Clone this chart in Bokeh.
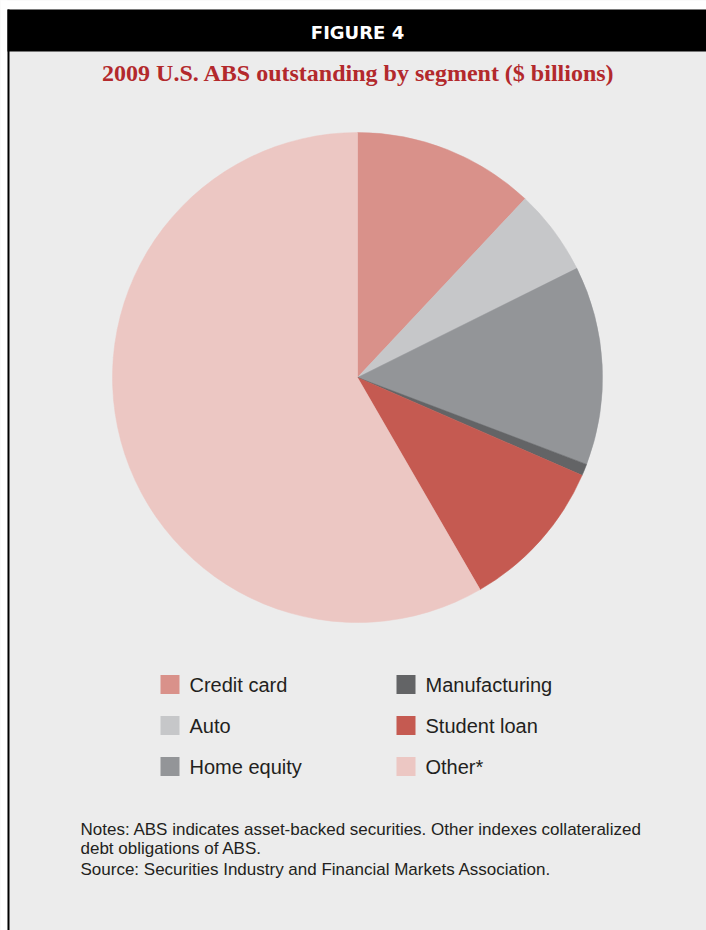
import numpy as np
from bokeh.plotting import figure
from bokeh.models import ColumnDataSource
from bokeh.core.properties import value
from bokeh.embed import file_html
from bokeh.resources import INLINE

# ---- data ($ billions) ----
segments = ["Credit card", "Auto", "Home equity", "Manufacturing", "Student loan", "Other*"]
amounts = [296, 140, 324, 19, 250, 1441]
colors = ["#d9918a", "#c6c7c9", "#939598", "#636466", "#c55a51", "#ecc7c3"]

title_text = "2009 U.S. ABS outstanding by segment ($ billions)"
header_text = "FIGURE 4"
notes_lines = [
    "Notes: ABS indicates asset-backed securities. Other indexes collateralized",
    "debt obligations of ABS.",
    "Source: Securities Industry and Financial Markets Association.",
]

W, H = 706, 930
BG = "#ececec"

p = figure(width=W, height=H, x_range=(0, W), y_range=(0, H),
           output_backend="svg", toolbar_location=None, min_border=0)
p.axis.visible = False
p.grid.visible = False
p.outline_line_color = None
p.background_fill_color = BG
p.border_fill_color = BG

# white page margin, header bar and left frame line
p.quad(left=0, right=W, bottom=921, top=H + 2, fill_color="white", line_color=None)
p.quad(left=-2, right=7, bottom=-2, top=H + 2, fill_color="white", line_color=None)
p.quad(left=7, right=W + 2, bottom=879, top=921, fill_color="black", line_color=None)
p.quad(left=7, right=9, bottom=-2, top=921, fill_color="black", line_color=None)

p.text(x=[357], y=[898], text=[header_text], text_color="white",
       text_font=value("DejaVu Sans"), text_font_style="bold", text_font_size="18px",
       text_align="center", text_baseline="middle")

p.text(x=[358], y=[858], text=[title_text], text_color="#b3292c",
       text_font=value("Liberation Serif"), text_font_style="bold", text_font_size="24px",
       text_align="center", text_baseline="middle")

# ---- pie ----
vals = np.array(amounts, dtype=float)
frac = vals / vals.sum()
cum = np.concatenate([[0.0], np.cumsum(frac)]) * 2 * np.pi  # clockwise from top
start = np.pi / 2 - cum[1:]
end = np.pi / 2 - cum[:-1]
src = ColumnDataSource(dict(seg=segments, start=start, end=end, color=colors))
p.wedge(x=357, y=553, radius=245, start_angle="start", end_angle="end",
        fill_color="color", line_color="color", line_width=0.5, source=src)

# ---- legend ----
idx = np.arange(len(segments))
col = idx // 3
row = idx % 3
sw_x = 169.5 + col * 236
sw_y = 246 - row * 41
leg = ColumnDataSource(dict(x=sw_x, y=sw_y, tx=sw_x + 19.5, seg=segments, color=colors))
p.rect(x="x", y="y", width=19, height=19, fill_color="color", line_color=None, source=leg)
p.text(x="tx", y="y", text="seg", text_color="#231f20",
       text_font=value("Liberation Sans"), text_font_size="20px",
       text_align="left", text_baseline="middle", source=leg)

# ---- notes ----
p.text(x=[80, 80, 80], y=[101, 82, 61], text=notes_lines, text_color="#231f20",
       text_font=value("Liberation Sans"), text_font_size="17px",
       text_align="left", text_baseline="middle")

open("out.html", "w").write(file_html(p, INLINE))
